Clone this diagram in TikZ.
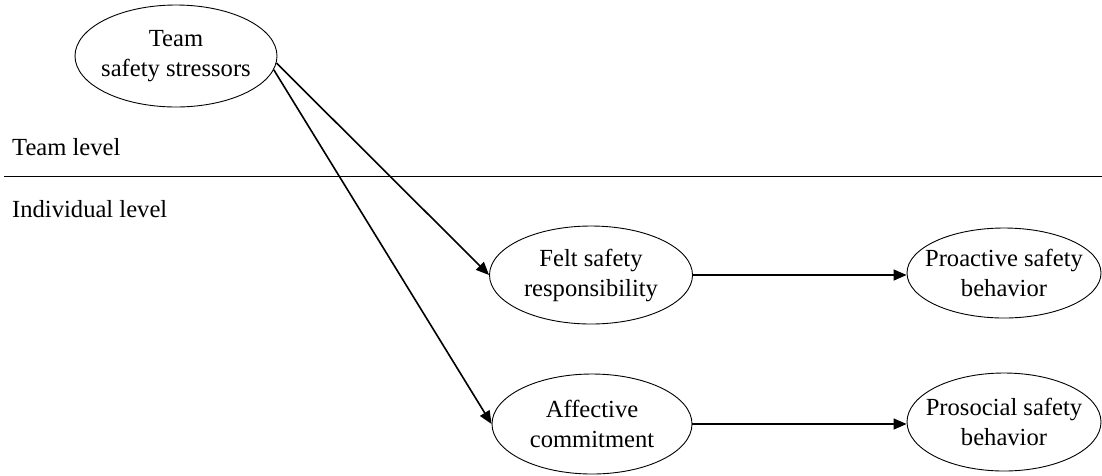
\documentclass[tikz,border=0pt]{standalone}
\usepackage{fontspec}
\setmainfont{Liberation Serif}
\usetikzlibrary{shapes.geometric,arrows.meta}
\newcommand\zl[1]{\makebox[0pt]{#1}}
\begin{document}
\begin{tikzpicture}[x=1pt,y=-1pt,
  oval/.style={ellipse,draw,line width=0.9pt,inner sep=0pt,align=center,
    font=\fontsize{24.6}{30}\selectfont},
  lbl/.style={anchor=base west,inner sep=0pt,font=\fontsize{24.6}{30}\selectfont},
  conn/.style={line width=1.6pt,-{Triangle[length=13pt,width=11pt]}}]
\useasboundingbox (0,0) rectangle (1102,475);
\node[oval,minimum width=202pt,minimum height=102pt] (tss) at (176,56) {\zl{Team}\\\zl{safety stressors}};
\node[oval,minimum width=203pt,minimum height=98pt] (felt) at (591,275) {\zl{Felt safety}\\\zl{responsibility}};
\node[oval,minimum width=194pt,minimum height=90pt] (pro) at (1004,273) {\zl{Proactive safety}\\\zl{behavior}};
\node[oval,minimum width=200pt,minimum height=100pt] (aff) at (592,424) {\zl{Affective}\\\zl{commitment}};
\node[oval,minimum width=194pt,minimum height=98pt] (pros) at (1004,422) {\zl{Prosocial safety}\\\zl{behavior}};
\node[lbl] (tl) at (12,155) {Team level};
\node[lbl] (il) at (12,217) {Individual level};
\coordinate (la) at (4,176);
\coordinate (lb) at (1102,176);
\draw[line width=0.8pt] (la) -- (lb);
\draw[conn] (tss.-4) -- (felt.west);
\draw[conn] (tss.-8) -- (aff.west);
\draw[conn] (felt.east) -- (felt.east -| pro.west);
\draw[conn] (aff.east) -- (aff.east -| pros.west);
\end{tikzpicture}
\end{document}
